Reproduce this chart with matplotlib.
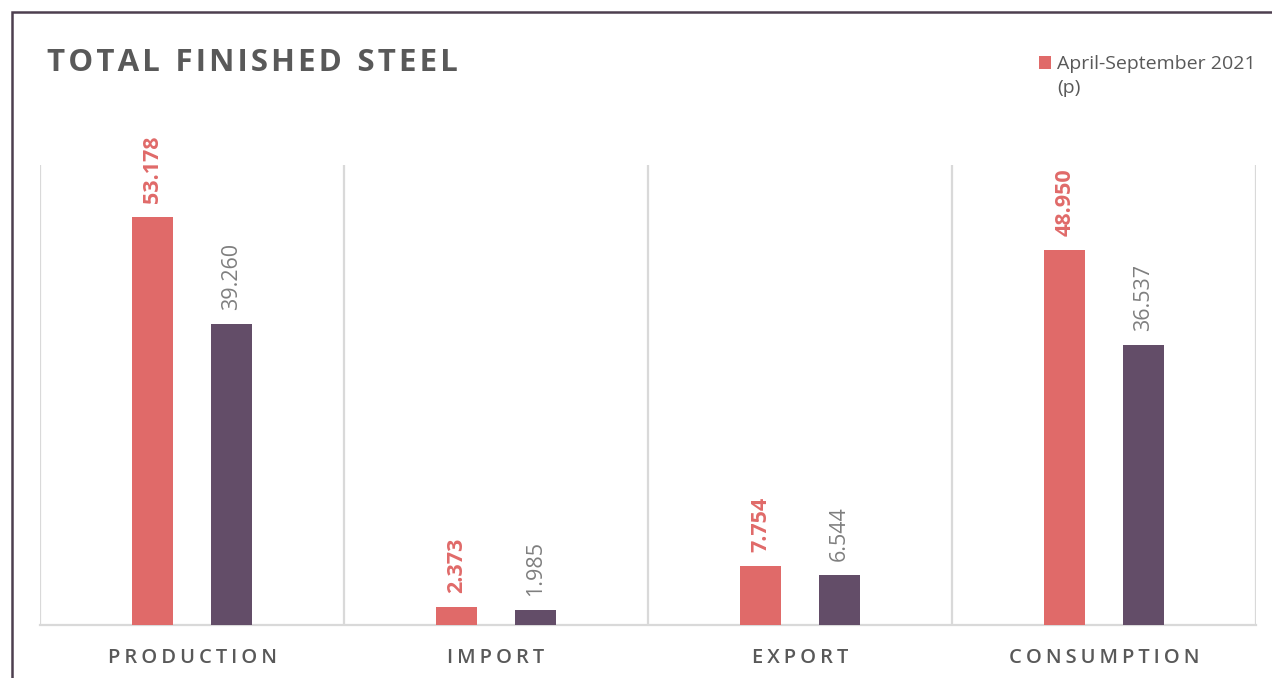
import matplotlib
matplotlib.use("Agg")
import matplotlib.pyplot as plt
from matplotlib.patches import Rectangle
import numpy as np

plt.rcParams['font.family'] = ['Open Sans', 'DejaVu Sans']

categories = ['PRODUCTION', 'IMPORT', 'EXPORT', 'CONSUMPTION']
series_names = ['April-September 2021 (p)', 'April-September 2020']
values_2021 = [53.178, 2.373, 7.754, 48.950]
values_2020 = [39.260, 1.985, 6.544, 36.537]

red = '#E06A69'
purple = '#634D68'
text_gray = '#595959'
grid_gray = '#D9D9D9'


def spaced(s, sep='\u2009'):
    # fake letter spacing
    return sep.join(s)


fig = plt.figure(figsize=(12.72, 6.78), dpi=100)
ax = fig.add_axes([40 / 1272, 53 / 678, 1216 / 1272, 460 / 678])

x = np.arange(len(categories))
w = 0.135
off = 0.129
bars1 = ax.bar(x - off, values_2021, w, color=red, label=series_names[0], zorder=3)
bars2 = ax.bar(x + off, values_2020, w, color=purple, label=series_names[1], zorder=3)

for b, v in zip(bars1, values_2021):
    ax.annotate(f'{v:.3f}', (b.get_x() + b.get_width() / 2, v), xytext=(0, 14),
                textcoords='offset pixels', rotation=90, ha='center', va='bottom',
                color=red, fontsize=15.5, fontweight='bold')
for b, v in zip(bars2, values_2020):
    ax.annotate(f'{v:.3f}', (b.get_x() + b.get_width() / 2, v), xytext=(0, 14),
                textcoords='offset pixels', rotation=90, ha='center', va='bottom',
                color='#7F7F7F', fontsize=15.5)

ax.set_xlim(-0.5, len(categories) - 0.5)
ax.set_ylim(0, 60)
for xb in np.arange(-0.5, len(categories), 1.0):
    ax.axvline(xb, color=grid_gray, lw=1.6, zorder=1)

for s in ['top', 'left', 'right']:
    ax.spines[s].set_visible(False)
ax.spines['bottom'].set_color(grid_gray)
ax.spines['bottom'].set_linewidth(1.6)
ax.set_yticks([])
ax.set_xticks(x)
ax.set_xticklabels([spaced(c) for c in categories], fontsize=14.5, color=text_gray,
                   fontweight='semibold')
ax.tick_params(axis='x', length=0, pad=16.5)

title = '\u2002'.join(spaced(wd, '\u200a') for wd in 'TOTAL FINISHED STEEL'.split())
fig.text(47 / 1272, 1 - 63 / 678, title, fontsize=22.5,
         fontweight='bold', color=text_gray, va='center', ha='left')

leg = fig.legend(handles=[bars1], labels=['April-September 2021'],
                 loc='upper left', bbox_to_anchor=(1021 / 1272, 1 - 38 / 678),
                 frameon=False, fontsize=14, handlelength=0.65, handleheight=0.65,
                 handletextpad=0.3, labelcolor=text_gray)
fig.text(1057 / 1272, 1 - 88 / 678, '(p)', fontsize=14, color=text_gray,
         va='center', ha='left')

fig.patches.append(Rectangle((12 / 1272, -0.1), 1.2, 1.1 - 12 / 678,
                             transform=fig.transFigure, fill=False,
                             edgecolor='#4D3F4F', lw=1.8, zorder=10))

fig.savefig('out.png', dpi=100)
